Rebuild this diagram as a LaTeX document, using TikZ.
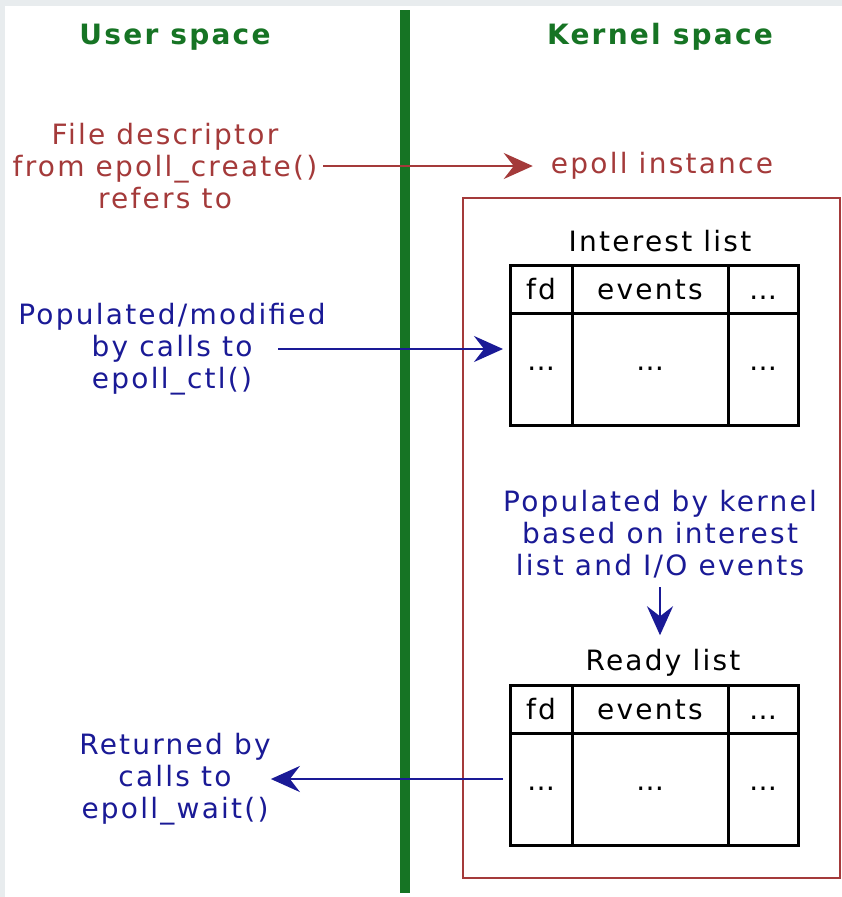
\documentclass[tikz,border=0pt]{standalone}
\usepackage{fontspec}
\setmainfont{DejaVu Sans}[LetterSpace=8]
\usetikzlibrary{arrows.meta,positioning}

\definecolor{bggray}{HTML}{E8ECEE}
\definecolor{spacegreen}{HTML}{167424}
\definecolor{fdred}{HTML}{A43A3A}
\definecolor{callblue}{HTML}{1A1A96}

\begin{document}
\begin{tikzpicture}[x=1pt, y=-1pt,
    txt/.style = {align=center, inner sep=0pt, font=\fontsize{28}{32}\selectfont},
    head/.style = {txt, text=spacegreen, font=\bfseries\fontsize{28}{32}\selectfont},
    cell/.style = {draw, line width=3pt, outer sep=0pt, inner sep=0pt, font=\fontsize{28}{32}\selectfont},
    hdr/.style = {cell, minimum height=48pt, text height=21pt, text depth=0pt},
    body/.style = {cell, minimum height=112pt},
    fdarrow/.style = {draw=fdred, line width=2.5pt, -{Stealth[length=29pt,width=26pt,inset=10pt]}},
    callarrow/.style = {draw=callblue, line width=2.5pt, -{Stealth[length=29pt,width=26pt,inset=10pt]}}]
    \useasboundingbox (0,0) rectangle (842,897);
    \fill[bggray] (0,0) rectangle (842,897);
    \fill[white] (5,6) rectangle (842,897);

    % the two spaces
    \node[head] (user_lbl) at (175,37) {User space};
    \node[head] (kern_lbl) at (660,37) {Kernel space};
    \draw[spacegreen, line width=10pt] (405,10) -- (405,893);

    % epoll instance
    \node[txt, text=fdred] (fd_txt) at (165,166) {File descriptor\\from epoll\_create()\\refers to};
    \node[txt, text=fdred] (inst_txt) at (662,166) {epoll instance};
    \draw[fdred, line width=2pt] (463,198) rectangle (840,878);
    \draw[fdarrow, shorten <=6pt, shorten >=18pt] (fd_txt.east) -- (inst_txt.west);

    % interest list
    \node[txt] (int_lbl) at (660,241) {Interest list};
    \node[hdr, minimum width=62pt] (fd_1) at (541,289) {fd};
    \node[hdr, minimum width=156pt, right=0pt of fd_1] (ev_1) {events};
    \node[hdr, minimum width=70pt, right=0pt of ev_1] (more_1) {\dots};
    \node[body, minimum width=62pt, below=0pt of fd_1] (fdv_1) {\dots};
    \node[body, minimum width=156pt, below=0pt of ev_1] (evv_1) {\dots};
    \node[body, minimum width=70pt, below=0pt of more_1] (morev_1) {\dots};

    \node[txt, text=callblue] (ctl_txt) at (172,349) {Populated/modified\\by calls to\\epoll\_ctl()};
    \coordinate (ctl_out) at (278,349);
    \draw[callarrow, shorten >=7pt] (ctl_out) -- (ctl_out -| fdv_1.west);

    % ready list
    \node[txt, text=callblue] (kern_txt) at (660,534) {Populated by kernel\\based on interest\\list and I/O events};
    \node[txt] (rdy_lbl) at (663,663) {Ready list};
    \draw[callarrow, shorten <=9pt, shorten >=14pt] (kern_txt.south) -- (kern_txt.south |- rdy_lbl.north);
    \node[hdr, minimum width=62pt] (fd_2) at (541,709) {fd};
    \node[hdr, minimum width=156pt, right=0pt of fd_2] (ev_2) {events};
    \node[hdr, minimum width=70pt, right=0pt of ev_2] (more_2) {\dots};
    \node[body, minimum width=62pt, below=0pt of fd_2] (fdv_2) {\dots};
    \node[body, minimum width=156pt, below=0pt of ev_2] (evv_2) {\dots};
    \node[body, minimum width=70pt, below=0pt of more_2] (morev_2) {\dots};

    \node[txt, text=callblue] (wait_txt) at (175,779) {Returned by\\calls to\\epoll\_wait()};
    \draw[callarrow, shorten <=7pt] (fdv_2.west |- wait_txt.east) -- (wait_txt.east);
\end{tikzpicture}
\end{document}
